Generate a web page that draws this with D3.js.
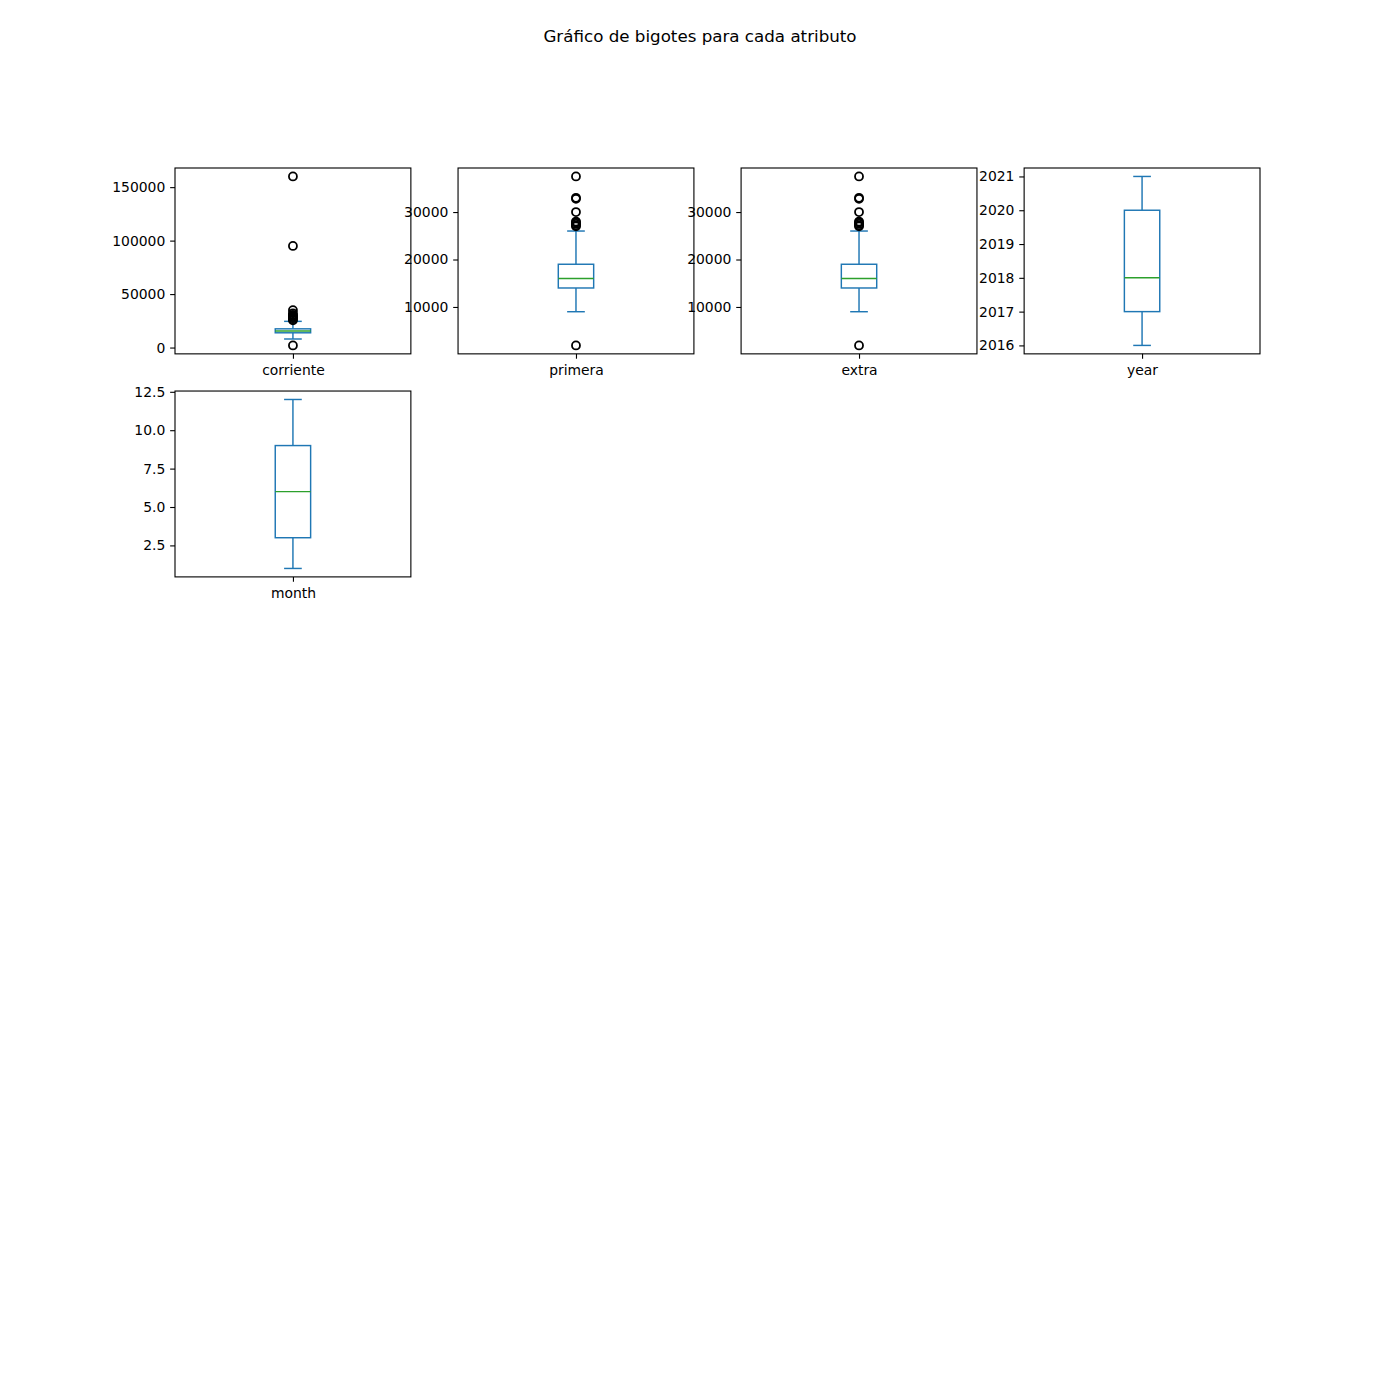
<!DOCTYPE html>
<html>
<head>
<meta charset="utf-8">
<script src="https://cdn.jsdelivr.net/npm/d3@7"></script>
<style>
  html, body { margin: 0; padding: 0; background: #fff; }
  svg { display: block; }
  text { font-family: "DejaVu Sans", sans-serif; fill: #000; }
</style>
</head>
<body>
<svg id="chart" width="1400" height="1400"></svg>
<script>
// ---- data ----
const attributes = ["corriente", "primera", "extra", "year", "month"];
// [lower whisker, Q1, median, Q3, upper whisker]
const corrienteStats = [8000, 13800, 15500, 17500, 24500];
const primeraStats   = [9000, 14000, 16000, 19000, 26000];
const extraStats     = [9000, 14000, 16000, 19000, 26000];
const yearStats      = [2016, 2017, 2018, 2020, 2021];
const monthStats     = [1, 3, 6, 9, 12];
const corrienteOutliers = [160000, 95000, 35000, 32000, 30500, 29500, 28500, 27500, 26500, 25500, 2000];
const primeraOutliers   = [37500, 33000, 32800, 30000, 28000, 27800, 27500, 27200, 27000, 1900];
const extraOutliers     = [37500, 33000, 32800, 30000, 28000, 27800, 27500, 27200, 27000, 1900];
const yearOutliers      = [];
const monthOutliers     = [];
const corrienteTicks = [0, 50000, 100000, 150000];
const primeraTicks   = [10000, 20000, 30000];
const extraTicks     = [10000, 20000, 30000];
const yearTicks      = [2016, 2017, 2018, 2019, 2020, 2021];
const monthTicks     = [2.5, 5.0, 7.5, 10.0, 12.5];
const titleText = "Gráfico de bigotes para cada atributo";

const statsList = [corrienteStats, primeraStats, extraStats, yearStats, monthStats];
const outlierList = [corrienteOutliers, primeraOutliers, extraOutliers, yearOutliers, monthOutliers];
const tickList = [corrienteTicks, primeraTicks, extraTicks, yearTicks, monthTicks];
const tickFormats = [d3.format("d"), d3.format("d"), d3.format("d"), d3.format("d"), d3.format(".1f")];

// ---- layout (matplotlib 5x4 grid on 1400x1400) ----
const W = 1400, H = 1400;
const nCols = 4, nRows = 5;
const leftF = 0.125 * W, rightF = 0.9 * W, topF = 0.12 * H, bottomF = 0.89 * H;
const cellW = (rightF - leftF) / (nCols + (nCols - 1) * 0.2);
const cellH = (bottomF - topF) / (nRows + (nRows - 1) * 0.2);

const blue = "#1f77b4", green = "#2ca02c";
const lw = 1.45;
const svg = d3.select("#chart");

svg.append("text")
  .attr("x", W / 2).attr("y", 42)
  .attr("text-anchor", "middle")
  .style("font-size", "16.7px")
  .text(titleText);

attributes.forEach((name, i) => {
  const col = i % nCols, row = Math.floor(i / nCols);
  const x0 = leftF + col * cellW * 1.2;
  const y0 = topF + row * cellH * 1.2;
  const g = svg.append("g").attr("transform", `translate(${x0},${y0})`);

  const st = statsList[i], out = outlierList[i];
  const all = st.concat(out);
  const mn = d3.min(all), mx = d3.max(all);
  const pad = (mx - mn) * 0.05;
  const y = d3.scaleLinear().domain([mn - pad, mx + pad]).range([cellH, 0]);
  const x = d3.scaleLinear().domain([0.5, 1.5]).range([0, cellW]);

  const cx = x(1);
  const bw = x(1.075) - x(0.925);
  const capW = bw / 2;

  // whiskers
  g.append("line").attr("x1", cx).attr("x2", cx).attr("y1", y(st[0])).attr("y2", y(st[1]))
    .attr("stroke", blue).attr("stroke-width", lw);
  g.append("line").attr("x1", cx).attr("x2", cx).attr("y1", y(st[3])).attr("y2", y(st[4]))
    .attr("stroke", blue).attr("stroke-width", lw);
  // caps
  [st[0], st[4]].forEach(v => {
    g.append("line").attr("x1", cx - capW / 2).attr("x2", cx + capW / 2)
      .attr("y1", y(v)).attr("y2", y(v))
      .attr("stroke", blue).attr("stroke-width", lw);
  });
  // box
  g.append("rect").attr("x", cx - bw / 2).attr("width", bw)
    .attr("y", y(st[3])).attr("height", y(st[1]) - y(st[3]))
    .attr("fill", "none").attr("stroke", blue).attr("stroke-width", lw);
  // median
  g.append("line").attr("x1", cx - bw / 2).attr("x2", cx + bw / 2)
    .attr("y1", y(st[2])).attr("y2", y(st[2]))
    .attr("stroke", green).attr("stroke-width", lw);
  // outliers
  g.selectAll("circle.fl").data(out).enter().append("circle")
    .attr("class", "fl")
    .attr("cx", cx).attr("cy", d => y(d)).attr("r", 4.0)
    .attr("fill", "none").attr("stroke", "#000").attr("stroke-width", 1.8);

  // frame
  g.append("rect").attr("x", 0).attr("y", 0).attr("width", cellW).attr("height", cellH)
    .attr("fill", "none").attr("stroke", "#000").attr("stroke-width", 1.11);

  // y axis
  const yAxis = d3.axisLeft(y).tickValues(tickList[i]).tickFormat(tickFormats[i])
    .tickSize(4.86).tickPadding(4.86);
  const ya = g.append("g").call(yAxis);
  ya.select(".domain").remove();
  ya.selectAll(".tick line").attr("stroke", "#000").attr("stroke-width", 1.11);
  ya.selectAll(".tick text").style("font-size", "13.9px").style("font-family", "DejaVu Sans");

  // x axis
  const xAxis = d3.axisBottom(x).tickValues([1]).tickFormat(() => name)
    .tickSize(4.86).tickPadding(6.5);
  const xa = g.append("g").attr("transform", `translate(0,${cellH})`).call(xAxis);
  xa.select(".domain").remove();
  xa.selectAll(".tick line").attr("stroke", "#000").attr("stroke-width", 1.11);
  xa.selectAll(".tick text").style("font-size", "13.9px").style("font-family", "DejaVu Sans");
});
</script>
</body>
</html>
